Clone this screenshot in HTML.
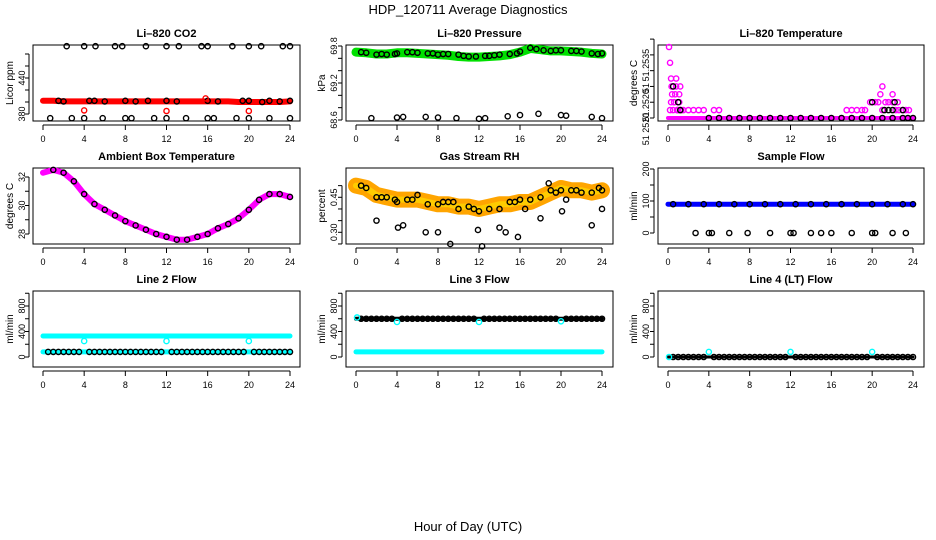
<!DOCTYPE html>
<html><head><meta charset="utf-8"><style>
body{margin:0;background:#fff}
svg{display:block;font-family:"Liberation Sans",sans-serif}
</style></head><body>
<svg id="c" width="936" height="540" viewBox="0 0 936 540">
<text x="468" y="14" text-anchor="middle" font-size="13">HDP_120711  Average Diagnostics</text>
<text x="468" y="531" text-anchor="middle" font-size="13">Hour of Day (UTC)</text>
</svg>
<script>
// ---- data ----
const hours = [0,1,2,3,4,5,6,7,8,9,10,11,12,13,14,15,16,17,18,19,20,21,22,23,24];
const xTicks = [0,4,8,12,16,20,24];
const co2Band = [402,402,401,401,401,401,401,401,401,401,401,401,401,401,401,401,401,401,401,400,400,400,400,400,401];
const co2BlackH = [1.5,2,4.5,5,6,8,9,10.2,12,13,16,17,19.4,20,21.3,22,23,24];
const co2BlackV = [402,401,402,402,401,402,401,402,402,401,402,401,402,402,400,402,401,402];
const co2TopH = [2.3,4,5.1,7,7.7,10,12,13.2,15.4,16,18.4,20,21.2,23.3,24];
const co2BotH = [0.7,2.8,4,5.8,8,8.6,10.8,12,13.9,16,16.6,18.8,20,22,24];
const co2RedH = [4,12,15.8,20];
const co2RedV = [386,385,406,385];
const presBand = [69.70,69.69,69.67,69.67,69.69,69.69,69.68,69.67,69.66,69.65,69.63,69.62,69.62,69.63,69.64,69.66,69.70,69.76,69.74,69.72,69.72,69.71,69.70,69.68,69.67];
const presBlackH = [0.5,1,2,2.5,3,3.8,4,5,5.5,6,7,7.5,8,8.5,9,10,10.5,11,11.7,12.6,13,13.5,14,15,15.7,16,17,17.6,18.3,19,19.5,20,21,21.5,22,23,23.6,24];
const presBlackV = [69.70,69.69,69.66,69.67,69.66,69.67,69.68,69.70,69.70,69.69,69.68,69.68,69.66,69.67,69.67,69.66,69.64,69.63,69.63,69.64,69.64,69.65,69.66,69.67,69.68,69.71,69.77,69.75,69.73,69.72,69.73,69.73,69.72,69.72,69.71,69.68,69.67,69.68];
const presLowH = [1.5,4,4.6,6.8,8,9.8,12,12.6,14.8,16,17.8,20,20.5,23,24];
const presLowV = [68.63,68.64,68.65,68.65,68.64,68.63,68.62,68.63,68.66,68.68,68.70,68.68,68.67,68.65,68.63];
const tempBase = 51.2518;
const tempMagH = [0.1,0.2,0.3,0.35,0.4,0.5,0.6,0.7,0.8,0.9,1.0,1.1,1.2,0.2,0.5,0.8,1.0,1.2,0.3,0.6,0.9,1.1,1.3,1.5,2,2.5,3,3.5,4.5,5,17.5,18,18.5,19,19.3,19.8,20.3,20.6,21,21.3,21.6,22,22.3,22.6,23,23.3,23.6,20.8,22,21,22.5];
const tempMagV = [51.2527,51.2525,51.2523,51.2522,51.2521,51.2522,51.2520,51.2521,51.2523,51.2519,51.2520,51.2521,51.2522,51.2519,51.2519,51.2522,51.2519,51.2519,51.2520,51.2520,51.2519,51.2520,51.2519,51.2519,51.2519,51.2519,51.2519,51.2519,51.2519,51.2519,51.2519,51.2519,51.2519,51.2519,51.2519,51.2520,51.2520,51.2520,51.2519,51.2520,51.2520,51.2520,51.2519,51.2519,51.2519,51.2519,51.2519,51.2521,51.2521,51.2522,51.2520];
const tempBlkH = [0.5,1,1.2,20,21.2,21.6,22,22.2,23,23.5];
const tempBlkV = [51.2522,51.2520,51.2519,51.2520,51.2519,51.2519,51.2519,51.2520,51.2519,51.2518];
const tempBaseH = [4,5,6,7,8,9,10,11,12,13,14,15,16,17,18,19,20,21,22,23,24];
const ambient = [32.3,32.5,32.3,31.7,30.8,30.1,29.7,29.3,28.9,28.6,28.3,28.0,27.8,27.6,27.6,27.8,28.0,28.4,28.7,29.1,29.7,30.4,30.8,30.8,30.6];
const rhBand = [0.50,0.49,0.46,0.45,0.44,0.44,0.44,0.43,0.42,0.42,0.41,0.41,0.40,0.41,0.42,0.42,0.43,0.43,0.45,0.47,0.49,0.48,0.48,0.47,0.48];
const rhBlackH = [0.5,1,2,2.5,3,3.8,4,5,5.5,6,7,8,8.5,9,9.5,10,11,11.5,12,13,14,15,15.5,16,16.5,17,18,18.8,19,19.5,20,21,21.5,22,23,23.7,24];
const rhBlackV = [0.50,0.49,0.45,0.45,0.45,0.44,0.43,0.44,0.44,0.46,0.42,0.42,0.43,0.43,0.43,0.40,0.41,0.40,0.39,0.40,0.40,0.43,0.43,0.44,0.40,0.44,0.45,0.51,0.48,0.47,0.48,0.48,0.48,0.47,0.47,0.49,0.48];
const rhLowH = [2,4.1,4.6,6.8,8,9.2,11.9,12.3,14,14.6,15.8,18,20.1,20.5,23,24];
const rhLowV = [0.35,0.32,0.33,0.30,0.30,0.25,0.31,0.24,0.32,0.30,0.28,0.36,0.39,0.44,0.33,0.40];
const flowBlue = 90;
const flowBlueH = [0.5,2,3.5,5,6.5,8,9.5,11,12.5,14,15.5,17,18.5,20,21.5,23,24];
const flowZeroH = [2.7,4,4.3,6,7.8,10,12,12.3,14,15,16,18,20,20.3,22,23.3];
const line2Cyan = 330, line2Black = 80;
const line2DipH = [4,12,20];
const line2DipV = [250,250,250];
const line3Black = 600, line3Cyan = 80;
const line3DipH = [0.1,4,12,20];
const line3DipV = [620,550,550,560];
const line4Zero = 0;
const line4SpikeH = [0.1,4,12,20];
const line4SpikeV = [0,80,80,80];
const denseH = [0.5,1,1.5,2,2.5,3,3.5,4.5,5,5.5,6,6.5,7,7.5,8,8.5,9,9.5,10,10.5,11,11.5,12.5,13,13.5,14,14.5,15,15.5,16,16.5,17,17.5,18,18.5,19,19.5,20.5,21,21.5,22,22.5,23,23.5,24];

// ---- drawing helpers ----
const svg = document.getElementById('c');
const NS = 'http://www.w3.org/2000/svg';
function el(tag, attrs, parent){const e=document.createElementNS(NS,tag);for(const k in attrs)e.setAttribute(k,attrs[k]);(parent||svg).appendChild(e);return e;}
const cols = [{bx0:33,bx1:300,h0:43,h24:290,lab:10,tick:22},{bx0:346,bx1:613,h0:356,h24:602,lab:322,tick:334},{bx0:658,bx1:924,h0:668,h24:913,lab:634,tick:646}];
const rows = [{by0:45,by1:121,title:37},{by0:168,by1:244,title:160},{by0:291,by1:367,title:283}];

function panel(name,ci,ri,title,ylab,ymap,yticks,ylabels){
  const c=cols[ci],r=rows[ri];
  const g=el('g',{});
  
  
  const xs=h=>c.h0+(c.h24-c.h0)*h/24;
  const ys=v=>ymap[1]+(v-ymap[0])*(ymap[3]-ymap[1])/(ymap[2]-ymap[0]);
  const t=el('text',{x:(c.bx0+c.bx1)/2,y:r.title,'text-anchor':'middle','font-size':11,'font-weight':'bold'},g);t.textContent=title;
  
  const b=el('rect',{x:c.bx0,y:r.by0,width:c.bx1-c.bx0,height:r.by1-r.by0,fill:'none',stroke:'#000','stroke-width':1},g);
  
  el('line',{x1:xs(0),x2:xs(24),y1:r.by1+4,y2:r.by1+4,stroke:'#000'},g);
  xTicks.forEach(h=>{el('line',{x1:xs(h),x2:xs(h),y1:r.by1+4,y2:r.by1+9,stroke:'#000'},g);
    const tx=el('text',{x:xs(h),y:r.by1+21,'text-anchor':'middle','font-size':9},g);tx.textContent=h;
    });
  const ax=c.bx0-4;
  el('line',{x1:ax,x2:ax,y1:ys(yticks[0]),y2:ys(yticks[yticks.length-1]),stroke:'#000'},g);
  yticks.forEach(v=>el('line',{x1:ax-4,x2:ax,y1:ys(v),y2:ys(v),stroke:'#000'},g));
  ylabels.forEach(([v,s])=>{const yy=ys(v);const tx=el('text',{x:0,y:0,transform:`translate(${c.tick+3},${yy}) rotate(-90)`,'text-anchor':'middle','font-size':9},g);tx.textContent=s;
    });
  const yl=el('text',{x:0,y:0,transform:`translate(${c.lab+3},${(r.by0+r.by1)/2}) rotate(-90)`,'text-anchor':'middle','font-size':10},g);yl.textContent=ylab;
  
  return {g,xs,ys,
    band(vals,color,w){const d=vals.map((v,i)=>(i?'L':'M')+xs(hours[i])+','+ys(v)).join('');const p=el('path',{d,fill:'none',stroke:color,'stroke-width':w,'stroke-linejoin':'round','stroke-linecap':'round'},g);return p;},
    flat(v,color,w){const p=el('line',{x1:xs(0),x2:xs(24),y1:ys(v),y2:ys(v),stroke:color,'stroke-width':w,'stroke-linecap':'round'},g);return p;},
    pts(H,V,color){H.forEach((h,i)=>{const v=Array.isArray(V)?V[i]:V;const p=el('circle',{cx:xs(h),cy:ys(v),r:2.6,fill:'none',stroke:color,'stroke-width':1.4},g);});}
  };
}

let p=panel('co2',0,0,'Li\u2013820 CO2','Licor ppm',[380,114,440,78],[380,400,420,440,460,480],[[380,'380'],[440,'440']]);
p.band(co2Band,'#ff0000',6);p.pts(co2BlackH,co2BlackV,'#000');p.pts(co2TopH,493,'#000');p.pts(co2BotH,373,'#000');p.pts(co2RedH,co2RedV,'#ff0000');

p=panel('pressure',1,0,'Li\u2013820 Pressure','kPa',[68.6,120,69.8,46],[68.6,68.8,69.0,69.2,69.4,69.6,69.8],[[68.6,'68.6'],[69.2,'69.2'],[69.8,'69.8']]);
p.band(presBand,'#00e000',9);p.pts(presBlackH,presBlackV,'#000');p.pts(presLowH,presLowV,'#000');

p=panel('li820-temp',2,0,'Li\u2013820 Temperature','degrees C',[51.2518,118,51.2527,47],[51.2518,51.2520,51.2522,51.2524,51.2526,51.2528],[[51.25166,'51 2520'],[51.25196,'51.2520'],[51.25218,'51'],[51.25247,'51.2535']]);
p.flat(tempBase,'#ff00ff',4);
p.pts(tempMagH,tempMagV,'#ff00ff');
p.pts(tempBaseH,tempBase,'#000');
p.pts(tempBlkH,tempBlkV,'#000');

p=panel('ambient-temp',0,1,'Ambient Box Temperature','degrees C',[28,234,32,177],[28,29,30,31,32],[[28,'28'],[30,'30'],[32,'32']]);
p.band(ambient,'#ff00ff',6);p.pts(hours.slice(1),ambient.slice(1),'#000');

p=panel('gas-rh',1,1,'Gas Stream RH','percent',[0.30,232.3,0.45,197.3],[0.25,0.30,0.35,0.40,0.45,0.50],[[0.30,'0.30'],[0.45,'0.45']]);
p.band(rhBand,'#ffa500',16);p.band(rhBand,'#ffcc00',6);p.pts(rhBlackH,rhBlackV,'#000');p.pts(rhLowH,rhLowV,'#000');

p=panel('sample-flow',2,1,'Sample Flow','ml/min',[0,233,200,169],[0,50,100,150,200],[[0,'0'],[100,'100'],[200,'200']]);
p.flat(flowBlue,'#0000ff',5);p.pts(flowBlueH,flowBlue,'#000');p.pts(flowZeroH,0,'#000');

p=panel('line2-flow',0,2,'Line 2 Flow','ml/min',[0,357,800,306],[0,200,400,600,800,1000],[[0,'0'],[400,'400'],[800,'800']]);
p.flat(line2Cyan,'#00ffff',5);p.flat(line2Black,'#00ffff',5);p.pts(denseH,line2Black,'#000');p.pts(line2DipH,line2DipV,'#00ffff');

p=panel('line3-flow',1,2,'Line 3 Flow','ml/min',[0,357,800,306],[0,200,400,600,800,1000],[[0,'0'],[400,'400'],[800,'800']]);
p.flat(line3Cyan,'#00ffff',5);p.flat(line3Black,'#000',4);p.pts(denseH,line3Black,'#000');p.pts(line3DipH,line3DipV,'#00ffff');

p=panel('line4-flow',2,2,'Line 4 (LT) Flow','ml/min',[0,357,800,306],[0,200,400,600,800,1000],[[0,'0'],[400,'400'],[800,'800']]);
p.flat(line4Zero,'#000',3);p.pts(denseH,line4Zero,'#000');p.pts(line4SpikeH,line4SpikeV,'#00ffff');
</script>
</body></html>
